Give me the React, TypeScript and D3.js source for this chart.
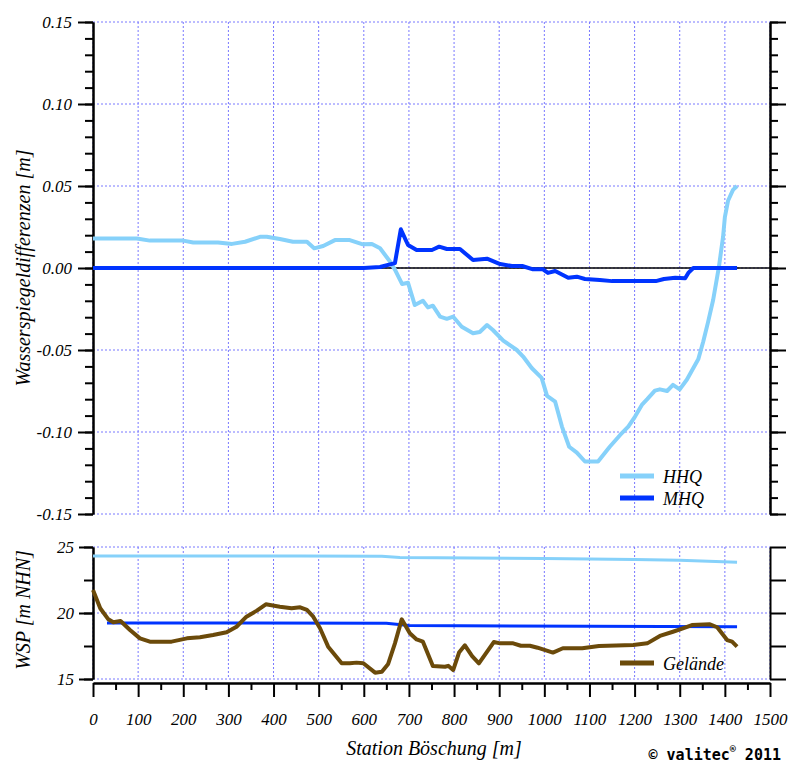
import React, { useEffect, useRef } from "react";
import * as d3 from "d3";

// station [m] -> Wasserspiegeldifferenz [m]
const hhqDiff: [number, number][] = [
  [0, 0.018], [97, 0.018], [126, 0.0167], [200, 0.0167], [222, 0.0155], [277, 0.0155],
  [308, 0.0147], [337, 0.016], [370, 0.019], [385, 0.019], [414, 0.0177], [443, 0.016],
  [474, 0.016], [490, 0.012], [510, 0.0134], [536, 0.017], [569, 0.017], [596, 0.0145],
  [618, 0.0146], [636, 0.012], [658, 0.004], [669, -0.001], [685, -0.0098], [698, -0.009],
  [713, -0.0226], [731, -0.02], [742, -0.024], [753, -0.023], [769, -0.0297], [784, -0.031],
  [798, -0.0297], [817, -0.0358], [842, -0.0398], [857, -0.039], [873, -0.0348], [886, -0.0378],
  [909, -0.0443], [939, -0.05], [953, -0.054], [972, -0.061], [994, -0.067], [1006, -0.078],
  [1024, -0.0815], [1039, -0.0967], [1055, -0.109], [1072, -0.1126], [1090, -0.118], [1119, -0.118],
  [1145, -0.109], [1168, -0.1018], [1186, -0.0967], [1201, -0.0906], [1216, -0.0835], [1228, -0.08],
  [1245, -0.0748], [1256, -0.074], [1272, -0.075], [1285, -0.0713], [1300, -0.074], [1316, -0.068],
  [1341, -0.0557], [1352, -0.045], [1363, -0.0327], [1374, -0.0195], [1387, 0.001], [1396, 0.019],
  [1400, 0.031], [1407, 0.041], [1418, 0.0476], [1427, 0.05],
];

const mhqDiff: [number, number][] = [
  [0, 0], [600, 0], [636, 0.0006], [669, 0.003], [682, 0.0236], [698, 0.014], [717, 0.011],
  [751, 0.011], [767, 0.013], [784, 0.0116], [813, 0.0116], [842, 0.0049], [873, 0.0057],
  [902, 0.0024], [928, 0.0012], [951, 0.0012], [975, -0.0008], [997, -0.0008], [1008, -0.003],
  [1024, -0.0018], [1053, -0.006], [1072, -0.0053], [1090, -0.0067], [1123, -0.0073],
  [1150, -0.008], [1247, -0.008], [1265, -0.0067], [1290, -0.006], [1312, -0.0063],
  [1319, -0.003], [1330, 0], [1427, 0],
];

// station [m] -> WSP [m NHN]
const wspHHQ: [number, number][] = [
  [0, 24.32], [460, 24.32], [640, 24.3], [680, 24.2], [1000, 24.12], [1200, 24.05],
  [1300, 24.0], [1427, 23.85],
];

const wspMHQ: [number, number][] = [
  [31, 19.25], [650, 19.22], [700, 19.05], [1100, 19.0], [1427, 18.96],
];

const gelaende: [number, number][] = [
  [0, 21.74], [16, 20.36], [34, 19.52], [45, 19.3], [61, 19.39], [82, 18.71], [104, 18.08],
  [126, 17.83], [174, 17.83], [208, 18.08], [237, 18.16], [266, 18.33], [296, 18.54],
  [318, 18.96], [340, 19.72], [363, 20.18], [383, 20.66], [414, 20.48], [440, 20.36],
  [459, 20.43], [474, 20.23], [487, 19.77], [503, 18.84], [521, 17.45], [551, 16.19],
  [569, 16.19], [584, 16.24], [599, 16.19], [625, 15.48], [640, 15.55], [654, 16.14],
  [669, 17.7], [684, 19.52], [702, 18.46], [717, 18.0], [731, 17.83], [753, 15.98],
  [780, 15.93], [787, 16.0], [798, 15.68], [811, 17.0], [824, 17.55], [840, 16.74],
  [855, 16.19], [888, 17.8], [902, 17.7], [931, 17.7], [948, 17.52], [968, 17.52],
  [985, 17.37], [1019, 17.0], [1041, 17.33], [1084, 17.33], [1121, 17.5], [1197, 17.58],
  [1228, 17.7], [1256, 18.26], [1285, 18.58], [1307, 18.84], [1327, 19.09], [1367, 19.14],
  [1383, 18.92], [1405, 17.95], [1416, 17.83], [1427, 17.45],
];

const xTicks = d3.range(0, 1501, 100);
const topTicks = [-0.15, -0.1, -0.05, 0, 0.05, 0.1, 0.15];
const botTicks = [15, 20, 25];

const FONT = "Liberation Serif, DejaVu Serif, serif";
const GRID = "#7878ff";
const C_HHQ = "#86d1fa";
const C_MHQ = "#0034ff";
const C_GEL = "#6b4a0a";

const App = () => {
  const ref = useRef<SVGSVGElement>(null);

  useEffect(() => {
    const svg = d3.select(ref.current);
    svg.selectAll("*").remove();

    const x = d3.scaleLinear().domain([0, 1500]).range([93, 770]);
    const yT = d3.scaleLinear().domain([-0.15, 0.15]).range([514, 22]);
    const yB = d3.scaleLinear().domain([15, 25]).range([679, 547]);

    // grid
    const grid = svg.append("g")
      .attr("stroke", GRID).attr("stroke-width", 1).attr("stroke-dasharray", "2,2");
    xTicks.forEach((t) => {
      grid.append("line").attr("x1", x(t)).attr("x2", x(t)).attr("y1", yT(0.15)).attr("y2", yT(-0.15));
      grid.append("line").attr("x1", x(t)).attr("x2", x(t)).attr("y1", yB(25)).attr("y2", yB(15));
    });
    topTicks.forEach((t) => {
      grid.append("line").attr("x1", x(0)).attr("x2", x(1500)).attr("y1", yT(t)).attr("y2", yT(t));
    });
    botTicks.forEach((t) => {
      grid.append("line").attr("x1", x(0)).attr("x2", x(1500)).attr("y1", yB(t)).attr("y2", yB(t));
    });

    // zero line
    svg.append("line")
      .attr("x1", x(0)).attr("x2", x(1500)).attr("y1", yT(0)).attr("y2", yT(0))
      .attr("stroke", "#000").attr("stroke-width", 1.5);

    const styleAxis = (g: any) => {
      g.attr("font-family", FONT).attr("font-size", 17);
      g.select(".domain").attr("stroke", "#000").attr("stroke-width", 2);
      g.selectAll(".tick line").attr("stroke", "#000").attr("stroke-width", 2);
      g.selectAll(".tick text")
        .attr("fill", "#000")
        .attr("font-family", FONT)
        .attr("font-style", "italic")
        .attr("font-size", 17);
    };

    const minorTop = d3.range(-15, 16).map((d) => d / 100);
    const minorBot = [15, 17.5, 20, 22.5, 25];

    // left axes
    svg.append("g").attr("transform", `translate(${x(0)},0)`)
      .call(d3.axisLeft(yT).tickValues(minorTop).tickSize(8).tickSizeOuter(0).tickFormat(() => ""))
      .call(styleAxis);
    svg.append("g").attr("transform", `translate(${x(0)},0)`)
      .call(d3.axisLeft(yT).tickValues(topTicks).tickSize(15).tickSizeOuter(0).tickPadding(6)
        .tickFormat((d: any) => (+d).toFixed(2)))
      .call(styleAxis);
    svg.append("g").attr("transform", `translate(${x(0)},0)`)
      .call(d3.axisLeft(yB).tickValues(minorBot).tickSize(9).tickSizeOuter(0).tickFormat(() => ""))
      .call(styleAxis);
    svg.append("g").attr("transform", `translate(${x(0)},0)`)
      .call(d3.axisLeft(yB).tickValues(botTicks).tickSize(14).tickSizeOuter(0).tickPadding(5)
        .tickFormat((d: any) => String(d)))
      .call(styleAxis);

    // right axes
    svg.append("g").attr("transform", `translate(${x(1500)},0)`)
      .call(d3.axisRight(yT).tickValues(minorTop).tickSize(8).tickSizeOuter(0).tickFormat(() => ""))
      .call(styleAxis);
    svg.append("g").attr("transform", `translate(${x(1500)},0)`)
      .call(d3.axisRight(yT).tickValues(topTicks).tickSize(16).tickSizeOuter(0).tickFormat(() => ""))
      .call(styleAxis);
    svg.append("g").attr("transform", `translate(${x(1500)},0)`)
      .call(d3.axisRight(yB).tickValues(minorBot).tickSize(16).tickSizeOuter(0).tickFormat(() => ""))
      .call(styleAxis);

    // bottom x axis
    svg.append("g").attr("transform", "translate(0,683)")
      .call(d3.axisBottom(x).tickValues(d3.range(50, 1500, 100)).tickSize(7).tickSizeOuter(0).tickFormat(() => ""))
      .call(styleAxis);
    const xa = svg.append("g").attr("transform", "translate(0,683)")
      .call(d3.axisBottom(x).tickValues(xTicks).tickSize(14).tickSizeOuter(0).tickPadding(16)
        .tickFormat((d: any) => String(d)))
      .call(styleAxis);
    xa.selectAll(".tick text").attr("dy", "0.71em");

    // lines
    const lineT = d3.line<[number, number]>().x((d) => x(d[0])).y((d) => yT(d[1]));
    const lineB = d3.line<[number, number]>().x((d) => x(d[0])).y((d) => yB(d[1]));

    svg.append("path").datum(hhqDiff).attr("d", lineT)
      .attr("fill", "none").attr("stroke", C_HHQ).attr("stroke-width", 4).attr("stroke-linejoin", "round");
    svg.append("path").datum(mhqDiff).attr("d", lineT)
      .attr("fill", "none").attr("stroke", C_MHQ).attr("stroke-width", 4).attr("stroke-linejoin", "round");

    svg.append("path").datum(wspHHQ).attr("d", lineB)
      .attr("fill", "none").attr("stroke", C_HHQ).attr("stroke-width", 3);
    svg.append("path").datum(wspMHQ).attr("d", lineB)
      .attr("fill", "none").attr("stroke", C_MHQ).attr("stroke-width", 3);
    svg.append("path").datum(gelaende).attr("d", lineB)
      .attr("fill", "none").attr("stroke", C_GEL).attr("stroke-width", 4).attr("stroke-linejoin", "round");

    // legends
    const legend = [
      { label: "HHQ", color: C_HHQ, y: 476 },
      { label: "MHQ", color: C_MHQ, y: 498 },
      { label: "Gelände", color: C_GEL, y: 663 },
    ];
    legend.forEach((l) => {
      svg.append("line").attr("x1", 620).attr("x2", 654).attr("y1", l.y).attr("y2", l.y)
        .attr("stroke", l.color).attr("stroke-width", 5);
      svg.append("text").attr("x", 663).attr("y", l.y + 7).text(l.label)
        .attr("fill", "#000")
        .attr("font-family", FONT).attr("font-style", "italic").attr("font-size", 18);
    });

    // axis titles
    const title = (txt: string, tx: number, ty: number, rot: number) =>
      svg.append("text")
        .attr("transform", `translate(${tx},${ty}) rotate(${rot})`)
        .attr("text-anchor", "middle")
        .attr("fill", "#000")
        .attr("font-family", FONT).attr("font-style", "italic").attr("font-size", 20)
        .text(txt);
    title("Wasserspiegeldifferenzen [m]", 30, 268, -90);
    title("WSP [m NHN]", 30, 610, -90);
    title("Station Böschung [m]", 434, 755, 0);

    // copyright
    const cp = svg.append("text").attr("x", 781).attr("y", 760)
      .attr("text-anchor", "end")
      .attr("fill", "#000")
      .attr("font-family", "DejaVu Sans Mono, monospace")
      .attr("font-weight", "bold").attr("font-size", 15);
    cp.append("tspan").text("© valitec");
    cp.append("tspan").attr("dy", -7).attr("font-size", 10).text("®");
    cp.append("tspan").attr("dy", 7).text(" 2011");
  }, []);

  return (
    <svg
      ref={ref}
      width={792}
      height={763}
      style={{ position: "absolute", left: 0, top: 0, display: "block", background: "#fff" }}
    />
  );
};

export default App;
